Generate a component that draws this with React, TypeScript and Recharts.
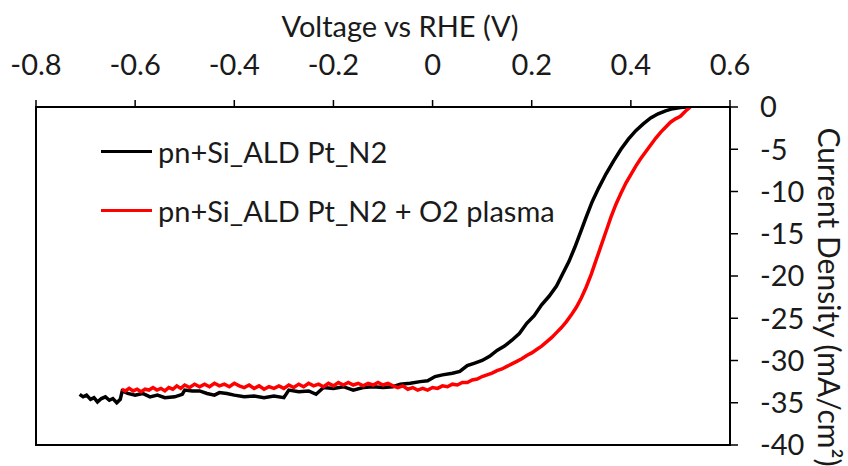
import { Line, LineChart, ReferenceArea, XAxis, YAxis } from "recharts";

const voltageTicks = [-0.8, -0.6, -0.4, -0.2, 0, 0.2, 0.4, 0.6];
const currentTicks = [0, -5, -10, -15, -20, -25, -30, -35, -40];

// [voltage vs RHE (V), current density (mA/cm2)]
const n2Curve: [number, number][] = [
  [-0.712, -34.0], [-0.705, -34.3], [-0.698, -34.1], [-0.69, -34.6], [-0.683, -34.4],
  [-0.676, -34.9], [-0.668, -34.5], [-0.66, -34.3], [-0.652, -34.7], [-0.645, -34.5],
  [-0.637, -35.0], [-0.63, -34.6], [-0.626, -33.6], [-0.615, -33.9], [-0.6, -34.1],
  [-0.585, -33.9], [-0.57, -34.3], [-0.555, -34.1], [-0.54, -34.4], [-0.52, -34.3],
  [-0.505, -34.0], [-0.5, -33.5], [-0.485, -33.6], [-0.47, -33.6], [-0.455, -33.9],
  [-0.44, -34.1], [-0.43, -33.8], [-0.415, -33.9], [-0.4, -34.1], [-0.38, -34.3],
  [-0.36, -34.2], [-0.34, -34.4], [-0.32, -34.2], [-0.3, -34.4], [-0.29, -33.5],
  [-0.27, -33.7], [-0.25, -33.6], [-0.235, -34.0], [-0.22, -33.2], [-0.2, -33.3],
  [-0.18, -33.1], [-0.16, -33.5], [-0.14, -33.2], [-0.12, -33.1], [-0.1, -33.2],
  [-0.08, -33.1], [-0.065, -32.8], [-0.045, -32.7], [-0.025, -32.5], [-0.01, -32.4],
  [0.005, -31.9], [0.02, -31.7], [0.04, -31.5], [0.055, -31.3], [0.07, -30.6],
  [0.085, -30.3], [0.1, -30.0], [0.115, -29.5], [0.13, -28.8], [0.145, -28.3],
  [0.16, -27.6], [0.175, -26.8], [0.19, -25.6], [0.205, -24.7], [0.22, -23.4],
  [0.235, -22.4], [0.25, -21.2], [0.262, -19.8], [0.275, -18.3], [0.287, -16.6],
  [0.298, -14.9], [0.31, -13.0], [0.322, -11.2], [0.335, -9.6], [0.35, -7.9],
  [0.365, -6.4], [0.38, -5.0], [0.395, -3.8], [0.41, -2.8], [0.425, -2.0],
  [0.44, -1.3], [0.455, -0.8], [0.47, -0.45], [0.485, -0.2], [0.5, -0.05], [0.512, 0],
];

const plasmaCurve: [number, number][] = [
  [-0.627, -33.4], [-0.62, -33.6], [-0.612, -33.3], [-0.604, -33.6], [-0.596, -33.4],
  [-0.588, -33.7], [-0.58, -33.4], [-0.572, -33.5], [-0.564, -33.2], [-0.556, -33.5],
  [-0.548, -33.3], [-0.54, -33.6], [-0.532, -33.2], [-0.524, -33.4], [-0.516, -33.0],
  [-0.508, -33.3], [-0.5, -32.9], [-0.49, -33.2], [-0.48, -32.8], [-0.47, -33.1],
  [-0.46, -32.8], [-0.45, -33.1], [-0.44, -32.7], [-0.43, -33.0], [-0.42, -32.8],
  [-0.41, -33.1], [-0.4, -32.7], [-0.39, -33.0], [-0.38, -33.2], [-0.37, -32.9],
  [-0.36, -33.3], [-0.35, -33.0], [-0.34, -33.4], [-0.33, -33.1], [-0.32, -33.3],
  [-0.31, -33.0], [-0.3, -33.3], [-0.29, -32.9], [-0.28, -33.2], [-0.27, -32.8],
  [-0.26, -33.1], [-0.25, -32.7], [-0.24, -33.0], [-0.23, -32.8], [-0.22, -33.1],
  [-0.21, -32.7], [-0.2, -33.0], [-0.19, -32.6], [-0.18, -32.9], [-0.17, -32.6],
  [-0.16, -32.9], [-0.15, -32.7], [-0.14, -33.0], [-0.13, -32.7], [-0.12, -32.9],
  [-0.11, -32.6], [-0.1, -32.9], [-0.09, -32.7], [-0.08, -33.0], [-0.07, -33.2],
  [-0.06, -33.0], [-0.05, -33.4], [-0.04, -33.2], [-0.03, -33.5], [-0.02, -33.3],
  [-0.01, -33.5], [0.0, -33.2], [0.01, -33.3], [0.02, -33.0], [0.03, -33.1],
  [0.04, -32.8], [0.05, -32.9], [0.06, -32.6], [0.07, -32.6], [0.08, -32.3],
  [0.09, -32.2], [0.1, -31.9], [0.11, -31.7], [0.12, -31.5], [0.13, -31.2],
  [0.14, -31.0], [0.15, -30.7], [0.16, -30.4], [0.17, -30.1], [0.18, -29.8],
  [0.19, -29.4], [0.2, -29.1], [0.21, -28.7], [0.22, -28.3], [0.23, -27.8],
  [0.24, -27.3], [0.25, -26.7], [0.26, -26.1], [0.27, -25.4], [0.28, -24.6],
  [0.29, -23.7], [0.3, -22.6], [0.31, -21.3], [0.32, -19.8], [0.33, -18.1],
  [0.34, -16.4], [0.35, -14.7], [0.36, -13.0], [0.37, -11.5], [0.38, -10.2],
  [0.39, -9.0], [0.4, -8.0], [0.41, -7.0], [0.42, -6.1], [0.43, -5.3],
  [0.44, -4.5], [0.45, -3.7], [0.46, -3.0], [0.47, -2.4], [0.48, -1.8],
  [0.49, -1.4], [0.5, -1.1], [0.51, -0.5], [0.52, 0],
];

const seriesNames = ["pn+Si_ALD Pt_N2", "pn+Si_ALD Pt_N2 + O2 plasma"];
const seriesColors = ["#000000", "#ff0000"];

const toPoints = (curve: [number, number][]) =>
  curve.map(([v, j]) => ({ v, j }));

const font = "Lato, 'Open Sans', sans-serif";
const textColor = "#1a1a1a";

function VoltageLabel({ viewBox }: any) {
  // title sits a little right of the plot centre in the original
  const cx = viewBox.x + viewBox.width / 2 + 17;
  return (
    <text
      x={cx}
      y={viewBox.y - 10}
      textAnchor="middle"
      fill={textColor}
      fontSize={29}
      fontFamily={font}
    >
      Voltage vs RHE (V)
    </text>
  );
}

function CurrentLabel({ viewBox }: any) {
  const cx = viewBox.x + viewBox.width - 18;
  const cy = viewBox.y + viewBox.height / 2 + 21;
  return (
    <text
      x={cx}
      y={cy}
      transform={`rotate(90 ${cx} ${cy})`}
      textAnchor="middle"
      dominantBaseline="central"
      fill={textColor}
      fontSize={30}
      fontFamily={font}
    >
      Current Density (mA/cm²)
    </text>
  );
}

export default function App() {
  return (
    <div
      style={{
        position: "absolute",
        left: 0,
        top: 0,
        width: 848,
        height: 466,
        background: "#fff",
        fontFamily: font,
      }}
    >
      <LineChart
        width={848}
        height={466}
        margin={{ top: 47, right: 0, bottom: 21, left: 36 }}
      >
        <XAxis
          type="number"
          dataKey="v"
          orientation="top"
          domain={[-0.8, 0.6]}
          ticks={voltageTicks}
          allowDataOverflow
          height={60}
          tickSize={7}
          tickMargin={25}
          tickFormatter={(t: number) => String(Number(t.toFixed(1)))}
          tick={{ fill: textColor, fontSize: 29, fontFamily: font }}
          axisLine={{ stroke: "#000", strokeWidth: 2 }}
          tickLine={{ stroke: "#000", strokeWidth: 1.5 }}
          label={<VoltageLabel />}
        />
        <YAxis
          type="number"
          dataKey="j"
          orientation="right"
          domain={[-40, 0]}
          ticks={currentTicks}
          allowDataOverflow
          width={118}
          tickSize={8}
          tickMargin={22}
          tick={{ fill: textColor, fontSize: 29, fontFamily: font, textAnchor: "start" }}
          axisLine={{ stroke: "#000", strokeWidth: 2 }}
          tickLine={{ stroke: "#000", strokeWidth: 1.5 }}
          label={<CurrentLabel />}
        />
        <ReferenceArea
          x1={-0.8}
          x2={0.6}
          y1={-40}
          y2={0}
          fill="none"
          stroke="#000"
          strokeWidth={2}
          fillOpacity={0}
        />
        <Line
          data={toPoints(n2Curve)}
          dataKey="j"
          stroke={seriesColors[0]}
          strokeWidth={3.5}
          dot={false}
          type="linear"
          isAnimationActive={false}
        />
        <Line
          data={toPoints(plasmaCurve)}
          dataKey="j"
          stroke={seriesColors[1]}
          strokeWidth={3.5}
          dot={false}
          type="linear"
          isAnimationActive={false}
        />
      </LineChart>

      <div style={{ position: "absolute", left: 101, top: 134 }}>
        {seriesNames.map((name, i) => (
          <div
            key={name}
            style={{
              display: "flex",
              alignItems: "center",
              height: 34,
              marginBottom: i === 0 ? 25 : 0,
            }}
          >
            <span
              style={{
                display: "inline-block",
                width: 51,
                height: 3,
                background: seriesColors[i],
                marginRight: 6,
              }}
            />
            <span style={{ fontSize: 29, color: textColor, whiteSpace: "nowrap" }}>
              {name}
            </span>
          </div>
        ))}
      </div>
    </div>
  );
}
